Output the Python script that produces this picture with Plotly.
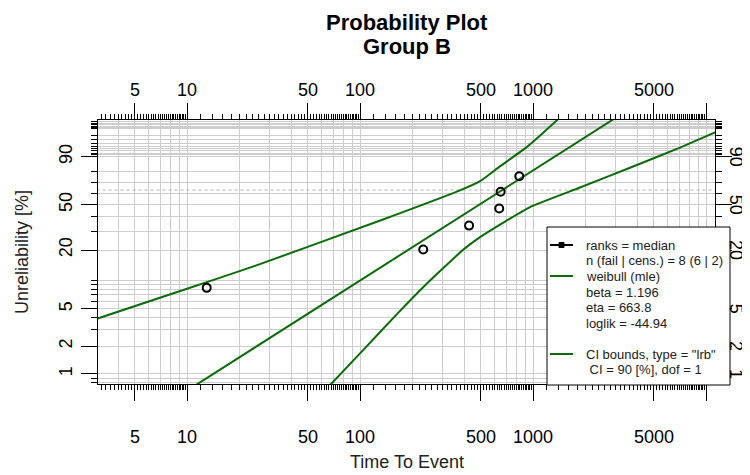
import math
import numpy as np
import plotly.graph_objects as go

# ---------------- data ----------------
obs_time = [13.0, 232.0, 427.0, 638.0, 650.0, 833.0]
obs_F = [8.3, 20.2, 33.7, 46.7, 61.6, 75.7]            # unreliability, %

fit_time = [10.0, 100.0, 1000.0, 3000.0]
fit_F = [0.66, 9.87, 80.45, 99.77]

ub_time = [3.0, 10.0, 23.1, 135.8, 368.6, 494.5, 644.0, 923.0, 1395.0, 1480.0]
ub_F = [3.91, 8.13, 13.37, 38.0, 62.16, 71.32, 83.6, 94.74, 99.72, 99.855]

lb_time = [67.1, 106.9, 163.0, 242.9, 395.4, 494.0, 689.0, 960.8, 1869.0, 3637.0, 7075.0, 11272.0, 12000.0]
lb_F = [0.759, 1.90, 4.37, 9.15, 20.17, 26.52, 36.53, 48.0, 65.57, 82.58, 94.42, 98.55, 98.84]

char_F = 63.2  # dotted characteristic-life line

x_major = [5, 10, 50, 100, 500, 1000, 5000, 10000]
x_major_text = ["5", "10", "50", "100", "500", "1000", "5000", ""]
y_major = [1, 2, 5, 20, 50, 90]
y_major_text = ["1", "2", "5", "20", "50", "90"]

legend_lines = ["ranks = median", "n (fail | cens.) = 8 (6 | 2)", "weibull (mle)",
                "beta = 1.196", "eta = 663.8", "loglik = -44.94", "",
                "CI bounds, type = \"lrb\"", " CI = 90 [%], dof = 1"]

title_lines = ["Probability Plot", "Group B"]
x_title = "Time To Event"
y_title = "Unreliability [%]"

# ---------------- scale helpers (Weibull probability scale) ----------------
def wb(p):
    f = p / 100.0
    return math.log(-math.log(1.0 - f))

def wbl(ps):
    return [wb(p) for p in ps]

OFF = 8                      # page body margin
W, H = 750 - OFF, 475 - OFF
L, R, T, B = 98, 715, 120, 384   # plot box in window pixels
pw, ph = R - L, B - T
X_RANGE = [1 - 89 / 173.0, 1 + 528 / 173.0]
Y_RANGE = [(190.56 - 384) / 39.88, (190.56 - 120.7) / 39.88]

def px(x):
    return (x - L) / pw

def py(y):
    return (B - y) / ph

# grid positions
x_grid = []
for dec in [1, 10, 100, 1000]:
    for k in range(1, 10):
        v = k * dec
        if v >= 3:
            x_grid.append(v)
x_grid.append(10000)

y_grid = [0.8, 0.9] + list(range(1, 10)) + list(range(10, 91, 10)) + list(range(91, 100)) + \
         [99.1, 99.2, 99.3, 99.4, 99.5, 99.6, 99.7, 99.8]

x_minor = []
for start, stop, step in [(3, 10, 0.2), (10, 100, 2), (100, 1000, 20), (1000, 10000, 200)]:
    for v in np.arange(start, stop + 1e-9, step):
        x_minor.append(round(float(v), 3))
x_minor = sorted(set(x_minor) - set(x_major))

y_minor = [p for p in y_grid if p not in y_major]

GREEN = "#0b6b0b"
FONT = "Liberation Sans, Arial, sans-serif"

fig = go.Figure()

fig.add_trace(go.Scatter(x=[3.0, 12000.0], y=[wb(char_F)] * 2, mode="lines",
                         line=dict(color="#b0b0b0", width=1, dash="dot"), hoverinfo="skip"))
fig.add_trace(go.Scatter(x=ub_time, y=wbl(ub_F), mode="lines",
                         line=dict(color=GREEN, width=2, shape="spline", smoothing=0.5),
                         hoverinfo="skip"))
fig.add_trace(go.Scatter(x=lb_time, y=wbl(lb_F), mode="lines",
                         line=dict(color=GREEN, width=2, shape="spline", smoothing=0.4),
                         hoverinfo="skip"))
fig.add_trace(go.Scatter(x=fit_time, y=wbl(fit_F), mode="lines",
                         line=dict(color=GREEN, width=2), hoverinfo="skip"))
fig.add_trace(go.Scatter(x=obs_time, y=wbl(obs_F), mode="markers",
                         marker=dict(symbol="circle-open", size=8, color="black",
                                     line=dict(width=2, color="black")), hoverinfo="skip"))

# dummy traces for the tick axes
fig.add_trace(go.Scatter(x=[10, 100], y=[0, 0], xaxis="x2", yaxis="y2", mode="lines",
                         line=dict(width=0), opacity=0, hoverinfo="skip"))
fig.add_trace(go.Scatter(x=[10, 100], y=[0, 0], xaxis="x3", yaxis="y3", mode="lines",
                         line=dict(width=0), opacity=0, hoverinfo="skip"))

tickfont = dict(family=FONT, size=18, color="black")

def x_tick_axis(standoff):
    return dict(type="log", range=X_RANGE, tickmode="array", tickvals=x_major,
                ticktext=x_major_text, ticks="outside", ticklen=16, tickwidth=1,
                tickcolor="black", showgrid=False, zeroline=False, showline=False,
                tickfont=tickfont, ticklabelstandoff=standoff, automargin=False,
                minor=dict(tickmode="array", tickvals=x_minor, ticks="outside",
                           ticklen=5, tickwidth=1, tickcolor="black", showgrid=False))

def y_tick_axis(standoff, labels=True):
    return dict(range=Y_RANGE, tickmode="array", tickvals=wbl(y_major),
                ticktext=y_major_text, ticks="outside", ticklen=16, tickwidth=1,
                tickcolor="black", showgrid=False, zeroline=False, showline=False,
                tickfont=tickfont, ticklabelstandoff=standoff, automargin=False,
                showticklabels=labels,
                minor=dict(tickmode="array", tickvals=wbl(y_minor), ticks="outside",
                           ticklen=6, tickwidth=1, tickcolor="black", showgrid=False))

fig.update_layout(
    width=W, height=H,
    margin=dict(l=L - OFF, r=750 - R, t=T - OFF, b=475 - B, autoexpand=False),
    paper_bgcolor="white", plot_bgcolor="white",
    showlegend=False,
    font=dict(family=FONT, color="black"),
    xaxis=dict(type="log", range=X_RANGE, tickmode="array", tickvals=x_grid,
               showticklabels=False, ticks="", showgrid=True, gridcolor="#cdcdcd",
               gridwidth=1, zeroline=False, showline=True, mirror=True,
               linecolor="black", linewidth=1, automargin=False),
    yaxis=dict(range=Y_RANGE, tickmode="array", tickvals=wbl(y_grid),
               showticklabels=False, ticks="", showgrid=True, gridcolor="#cdcdcd",
               gridwidth=1, zeroline=False, showline=True, mirror=True,
               linecolor="black", linewidth=1, automargin=False),
    xaxis2=dict(overlaying="x", side="bottom", anchor="y2", **x_tick_axis(20)),
    yaxis2=dict(overlaying="y", side="left", anchor="x2", tickangle=-90, **y_tick_axis(2)),
    xaxis3=dict(overlaying="x", side="top", anchor="y3", **x_tick_axis(0)),
    yaxis3=dict(overlaying="y", side="right", anchor="x3", **y_tick_axis(0, labels=False)),
)

shapes = []
shapes.append(dict(type="rect", xref="paper", yref="paper",
                   x0=px(547), x1=px(730), y0=py(385), y1=py(227),
                   fillcolor="white", line=dict(color="black", width=1), layer="above"))
shapes.append(dict(type="line", xref="paper", yref="paper", x0=px(550), x1=px(573),
                   y0=py(245), y1=py(245), line=dict(color="black", width=2), layer="above"))
shapes.append(dict(type="rect", xref="paper", yref="paper", x0=px(559), x1=px(564),
                   y0=py(247.5), y1=py(242.5), fillcolor="black",
                   line=dict(color="black", width=1), layer="above"))
shapes.append(dict(type="line", xref="paper", yref="paper", x0=px(550), x1=px(573),
                   y0=py(276), y1=py(276), line=dict(color=GREEN, width=2), layer="above"))
shapes.append(dict(type="line", xref="paper", yref="paper", x0=px(550), x1=px(573),
                   y0=py(354), y1=py(354), line=dict(color=GREEN, width=2), layer="above"))
fig.update_layout(shapes=shapes)

annotations = []
row_y = [245, 260, 276, 292, 307, 323, 338, 354, 369]
for txt, yy in zip(legend_lines, row_y):
    if not txt:
        continue
    annotations.append(dict(text=txt, x=px(584), y=py(yy), xref="paper", yref="paper",
                            xanchor="left", yanchor="middle", showarrow=False,
                            font=dict(family=FONT, size=13, color="#222222")))
# right-side tick labels (rotated, reading downward)
for val, txt in zip(y_major, y_major_text):
    annotations.append(dict(text=txt, x=px(736), y=wb(val), xref="paper", yref="y",
                            xanchor="center", yanchor="middle", showarrow=False,
                            textangle=90, font=tickfont))
annotations.append(dict(text="<b>" + title_lines[0] + "</b>", x=px(407), y=py(22),
                        xref="paper", yref="paper", xanchor="center", yanchor="middle",
                        showarrow=False, font=dict(family=FONT, size=22, color="black")))
annotations.append(dict(text="<b>" + title_lines[1] + "</b>", x=px(407), y=py(46),
                        xref="paper", yref="paper", xanchor="center", yanchor="middle",
                        showarrow=False, font=dict(family=FONT, size=22, color="black")))
annotations.append(dict(text=x_title, x=px(407), y=py(462), xref="paper", yref="paper",
                        xanchor="center", yanchor="middle", showarrow=False,
                        font=dict(family=FONT, size=18, color="#222222")))
annotations.append(dict(text=y_title, x=px(22), y=py(252), xref="paper", yref="paper",
                        xanchor="center", yanchor="middle", showarrow=False, textangle=-90,
                        font=dict(family=FONT, size=18, color="#222222")))
fig.update_layout(annotations=annotations)

fig.write_html("out.html", config={"responsive": False})
